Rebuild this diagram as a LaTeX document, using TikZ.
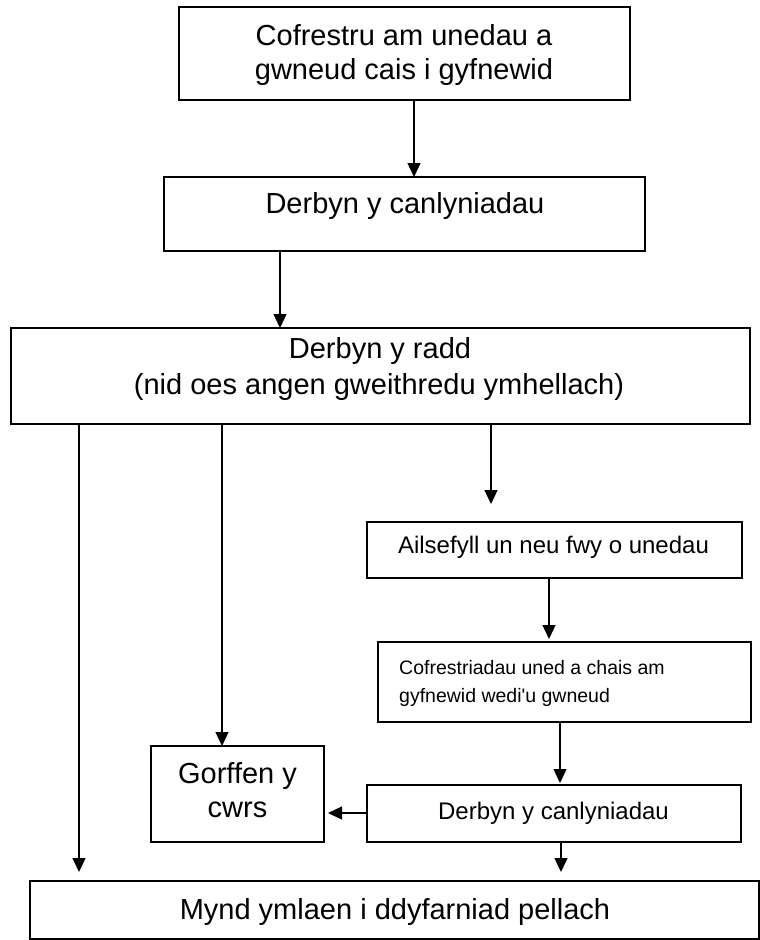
\documentclass[tikz,border=0pt]{standalone}
\usepackage{fontspec}
\setmainfont{Liberation Sans}
\usetikzlibrary{arrows.meta}
\begin{document}
\begin{tikzpicture}[x=1pt,y=-1pt,
  box/.style={draw, line width=1.5pt, inner sep=0pt, outer sep=0pt},
  conn/.style={line width=1.3pt, -{Triangle[length=14pt,width=13pt]}},
  txt/.style={inner sep=0pt, anchor=base},
  big/.style={font=\fontsize{29}{34}\selectfont},
  mid/.style={font=\fontsize{24}{28}\selectfont},
  small/.style={font=\fontsize{19.5}{24}\selectfont}]
\useasboundingbox (0,0) rectangle (760,940);
% boxes
\node[box, line width=2.5pt, minimum width=451pt, minimum height=93pt] (b1) at (404.5,53.5) {};
\node[box, minimum width=481pt, minimum height=74pt] (b2) at (404.5,214) {};
\node[box, minimum width=739pt, minimum height=96pt] (b3) at (380.5,376) {};
\node[box, minimum width=375pt, minimum height=56pt] (b4) at (554.5,550) {};
\node[box, minimum width=373pt, minimum height=80pt] (b5) at (564.5,682) {};
\node[box, minimum width=374pt, minimum height=57pt] (b6) at (554,813.5) {};
\node[box, minimum width=173pt, minimum height=96pt] (g) at (237.5,794) {};
\node[box, minimum width=729pt, minimum height=58pt] (b7) at (394.5,910) {};
% texts
\node[txt, big] (t1a) at (404,45) {Cofrestru am unedau a};
\node[txt, big] (t1b) at (404,79) {gwneud cais i gyfnewid};
\node[txt, big] (t2) at (405,213) {Derbyn y canlyniadau};
\node[txt, big] (t3a) at (380,358) {Derbyn y radd};
\node[txt, big] (t3b) at (379,394) {(nid oes angen gweithredu ymhellach)};
\node[txt, mid] (t4) at (553.5,553) {Ailsefyll un neu fwy o unedau};
\node[txt, small, anchor=base west] (t5a) at (399,674) {Cofrestriadau uned a chais am};
\node[txt, small, anchor=base west] (t5b) at (399,702) {gyfnewid wedi\textquotesingle u gwneud};
\node[txt, mid] (t6) at (553.5,819) {Derbyn y canlyniadau};
\node[txt, big] (tg1) at (237.5,783) {Gorffen y};
\node[txt, big] (tg2) at (237.5,817) {cwrs};
\node[txt, big] (t7) at (395,919) {Mynd ymlaen i ddyfarniad pellach};
% connector columns and free ends
\coordinate (xa) at (414,0);
\coordinate (xb) at (280,0);
\coordinate (xc) at (79,0);
\coordinate (xd) at (222,0);
\coordinate (xe) at (491,0);
\coordinate (xf) at (549,0);
\coordinate (xg) at (560,0);
\coordinate (xh) at (561,0);
\coordinate (yh) at (0,813);
\coordinate (e3) at (79,872);
\coordinate (e5) at (491,504);
\coordinate (e6) at (549,639);
\coordinate (e9) at (561,872);
% connectors
\draw[conn] (b1.south -| xa) -- (b2.north -| xa);
\draw[conn] (b2.south -| xb) -- (b3.north -| xb);
\draw[conn] (b3.south -| xc) -- (e3);
\draw[conn] (b3.south -| xd) -- (g.north -| xd);
\draw[conn] (b3.south -| xe) -- (e5);
\draw[conn] (b4.south -| xf) -- (e6);
\draw[conn, shorten >=2pt] (b5.south -| xg) -- (b6.north -| xg);
\draw[conn, shorten >=4pt] (b6.west |- yh) -- (g.east |- yh);
\draw[conn] (b6.south -| xh) -- (e9);
\end{tikzpicture}
\end{document}
